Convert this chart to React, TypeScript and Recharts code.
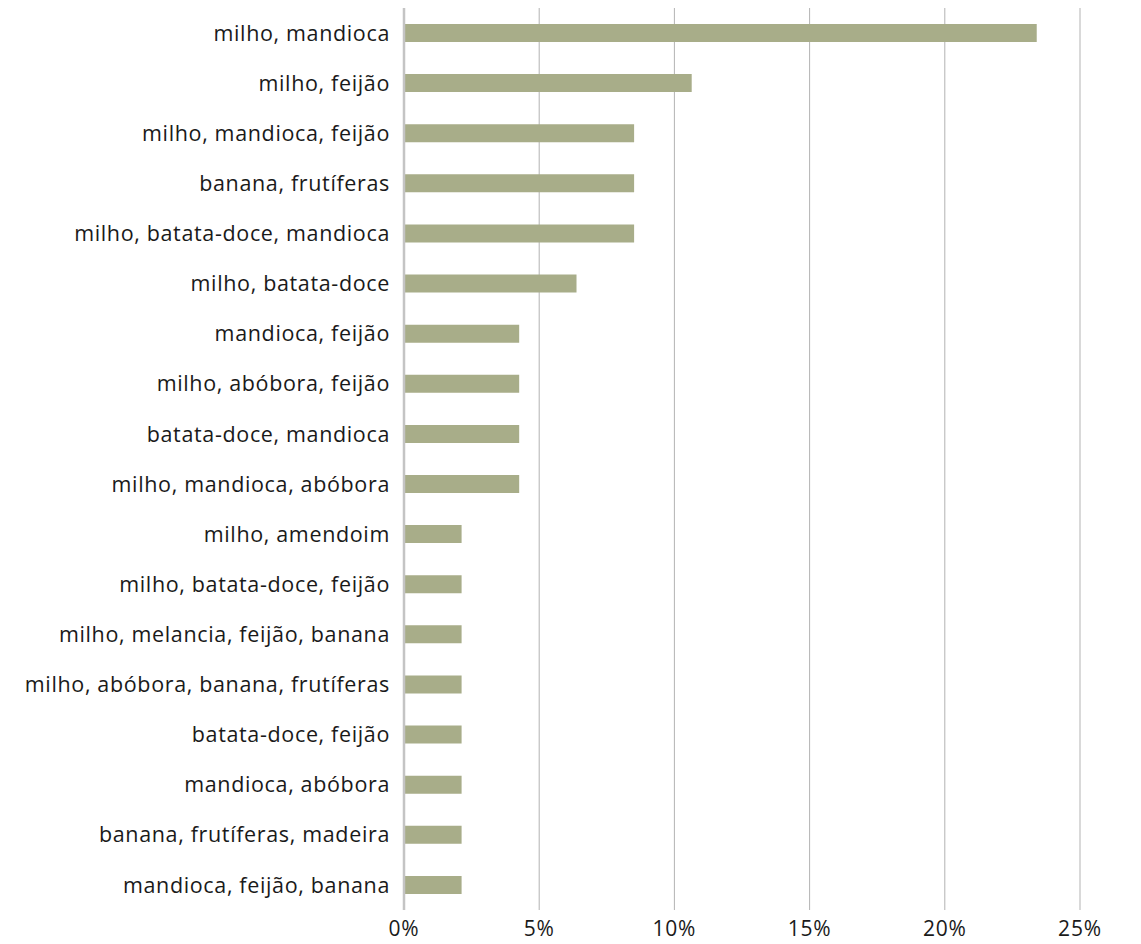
import React from "react";
import { BarChart, Bar, XAxis, YAxis, CartesianGrid } from "recharts";

const categories = [
  "milho, mandioca",
  "milho, feijão",
  "milho, mandioca, feijão",
  "banana, frutíferas",
  "milho, batata-doce, mandioca",
  "milho, batata-doce",
  "mandioca, feijão",
  "milho, abóbora, feijão",
  "batata-doce, mandioca",
  "milho, mandioca, abóbora",
  "milho, amendoim",
  "milho, batata-doce, feijão",
  "milho, melancia, feijão, banana",
  "milho, abóbora, banana, frutíferas",
  "batata-doce, feijão",
  "mandioca, abóbora",
  "banana, frutíferas, madeira",
  "mandioca, feijão, banana",
];

const values = [
  23.4, 10.64, 8.51, 8.51, 8.51, 6.38, 4.26, 4.26, 4.26, 4.26,
  2.13, 2.13, 2.13, 2.13, 2.13, 2.13, 2.13, 2.13,
];

const xTicks = [0, 5, 10, 15, 20, 25];

const data = categories.map((name, i) => ({ name, value: values[i] }));

const FONT = "'Open Sans', sans-serif";

export default function App() {
  return (
    <div style={{ position: "absolute", left: 0, top: 0, background: "#fff" }}>
      <BarChart
        width={1141}
        height={944}
        data={data}
        layout="vertical"
        margin={{ top: 8, right: 61, bottom: 0, left: 0 }}
      >
        <CartesianGrid horizontal={false} vertical={true} stroke="#b3b3b3" strokeWidth={1} />
        <XAxis
          type="number"
          domain={[0, 25]}
          ticks={xTicks}
          tickFormatter={(v: number) => `${v}%`}
          axisLine={false}
          tickLine={false}
          tickSize={0}
          tickMargin={11}
          height={34}
          interval={0}
          tick={{ fill: "#1a1a1a", fontSize: 21, fontFamily: FONT, letterSpacing: 0.8 }}
        />
        <YAxis
          type="category"
          dataKey="name"
          width={404}
          axisLine={{ stroke: "#c4c4c4", strokeWidth: 2.5 }}
          tickLine={false}
          tickSize={0}
          tickMargin={14}
          interval={0}
          tick={{ fill: "#1a1a1a", fontSize: 21.5, fontFamily: FONT, letterSpacing: 0.65 }}
        />
        <Bar dataKey="value" fill="#a8ad89" barSize={18} isAnimationActive={false} />
      </BarChart>
    </div>
  );
}
